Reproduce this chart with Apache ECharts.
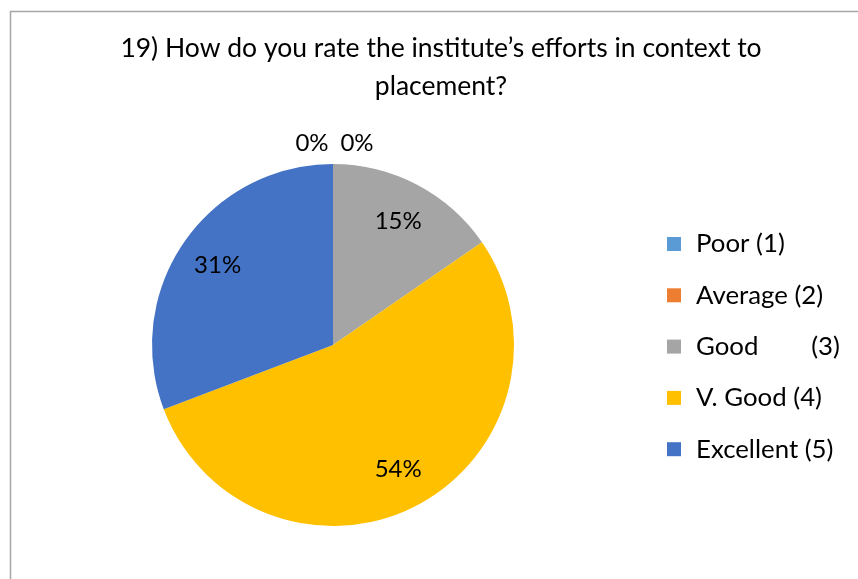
<!DOCTYPE html>
<html>
<head>
<meta charset="utf-8">
<script src="https://cdn.jsdelivr.net/npm/echarts@6/dist/echarts.min.js"></script>
<style>html,body{margin:0;padding:0;background:#fff}#c{width:858px;height:579px}</style>
</head>
<body>
<div id="c"></div>
<script>
const titleText = "19) How do you rate the institute\u2019s efforts in context to\nplacement?";
const categories = ["Poor (1)", "Average (2)", "Good        (3)", "V. Good (4)", "Excellent (5)"];
const values = [0, 0, 2, 7, 4];
const colors = ["#5B9BD5", "#ED7D31", "#A5A5A5", "#FFC000", "#4472C4"];
const FONT = "Lato";
const CENTER = [333, 345];

const chart = echarts.init(document.getElementById('c'), null, {renderer: 'canvas'});
const total = values.reduce((a, b) => a + b, 0);
const data = categories.map((name, i) => {
  const item = { name: name, value: values[i], itemStyle: { color: colors[i] } };
  if (values[i] === 0) {
    item.label = { position: 'outside' };
    item.labelLine = { show: false };
  }
  return item;
});
chart.setOption({
  backgroundColor: '#ffffff',
  animation: false,
  graphic: [{
    type: 'rect', left: 8, top: 9, silent: true,
    shape: { width: 900, height: 620 },
    style: { fill: 'none', stroke: '#a6a6a6', lineWidth: 1.5 }
  }],
  title: {
    text: titleText, left: 436, top: 24, textAlign: 'center',
    textStyle: { fontFamily: FONT, fontSize: 26.5, fontWeight: 'normal', color: '#000', lineHeight: 38 }
  },
  legend: {
    orient: 'vertical', left: 667, top: 230, itemGap: 23.3, padding: 0,
    itemWidth: 14, itemHeight: 14, icon: 'rect',
    textStyle: { fontFamily: FONT, fontSize: 25.8, color: '#000', lineHeight: 28, padding: [0, 0, 0, 10] },
    data: categories
  },
  series: [{
    type: 'pie', center: CENTER, radius: 181, startAngle: 90, clockwise: true,
    minAngle: 0, avoidLabelOverlap: false, stillShowZeroSum: true,
    label: {
      show: true, position: 'inside', fontFamily: FONT, fontSize: 24, color: '#000',
      formatter: p => Math.round(p.value / total * 100) + '%'
    },
    labelLayout: function (p) {
      if (p.dataIndex === 0) return { x: p.rect.x - 21, y: p.rect.y - 21, align: 'center', verticalAlign: 'middle' };
      if (p.dataIndex === 1) return { x: p.rect.x + 24, y: p.rect.y - 21, align: 'center', verticalAlign: 'middle' };
      const lr = p.labelRect;
      const cx = lr.x + lr.width / 2, cy = lr.y + lr.height / 2;
      const k = 1.5;
      return {
        x: CENTER[0] + (cx - CENTER[0]) * k,
        y: CENTER[1] + (cy - CENTER[1]) * k,
        align: 'center', verticalAlign: 'middle'
      };
    },
    itemStyle: { borderWidth: 0 },
    emphasis: { disabled: true },
    data: data
  }]
});
</script>
</body>
</html>
